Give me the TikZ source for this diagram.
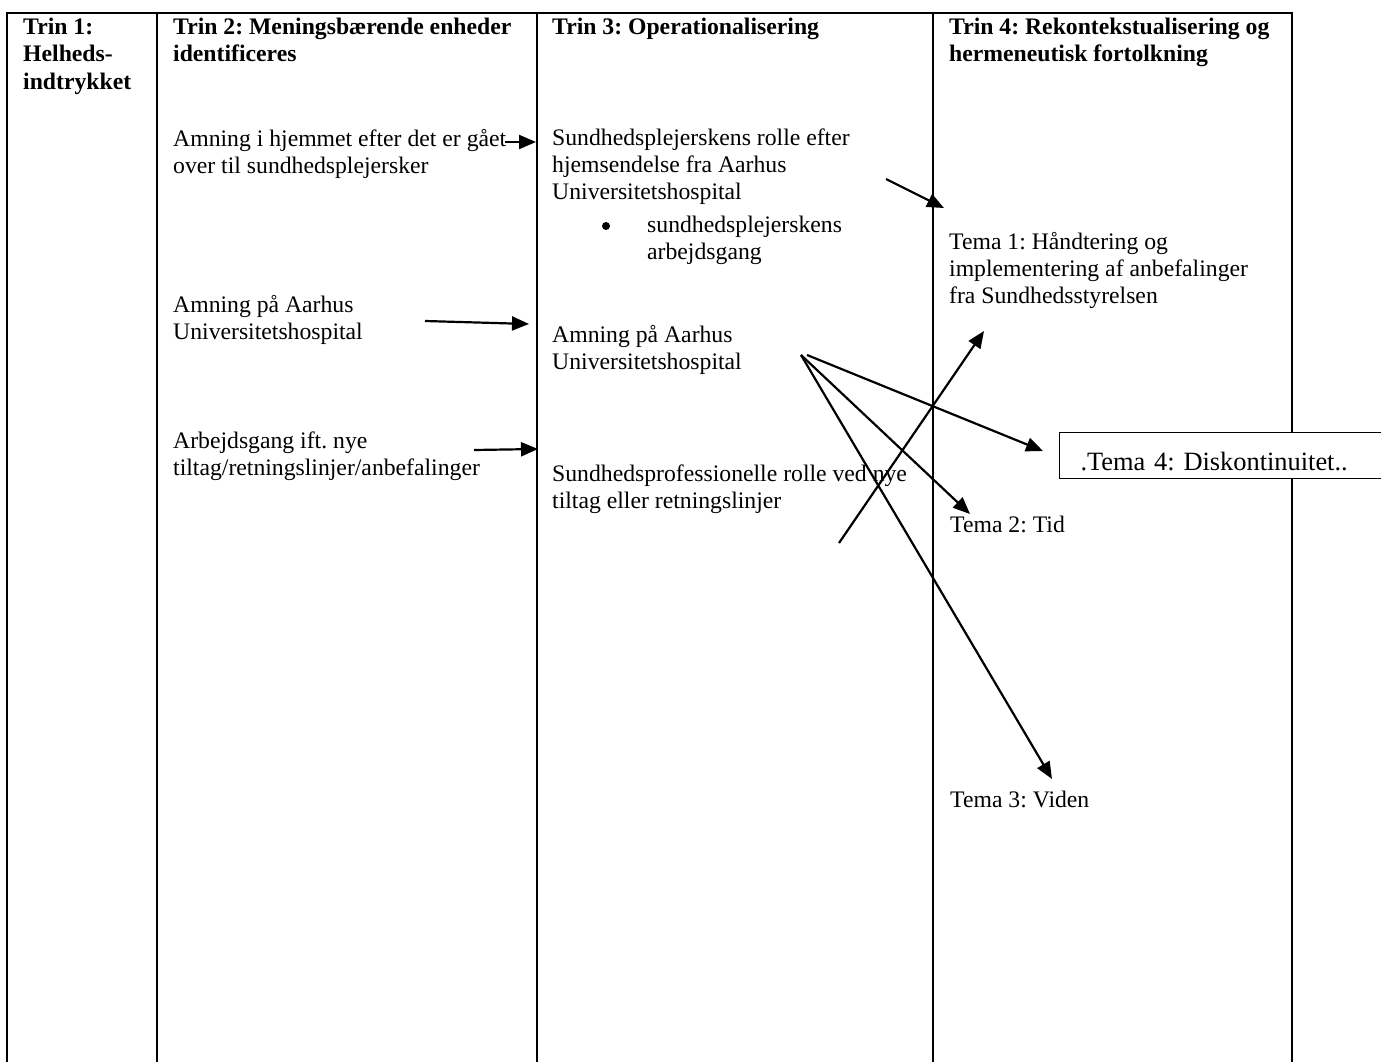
\documentclass[tikz,border=0pt]{standalone}
\usepackage{fontspec}
\setmainfont{Liberation Serif}
\usetikzlibrary{arrows.meta}
\frenchspacing
\newcommand{\bodyfont}{\fontsize{23.7}{27.3}\selectfont}
\newcommand{\headfont}{\fontsize{23.7}{27.6}\selectfont\bfseries}
\newcommand{\boxfont}{\fontsize{26.4}{30}\selectfont}
% fixed first-line height, so a node's top sits 22pt above its first baseline
\newcommand{\firstline}{\rule{0pt}{22pt}}

\begin{document}
\begin{tikzpicture}[x=1pt,y=-1pt,
  rule/.style={line width=2.2pt, line cap=rect},
  cell/.style={anchor=north west, inner sep=0pt, align=left},
  body/.style={cell, font=\bodyfont},
  head/.style={cell, font=\headfont},
  link/.style={line width=2.2pt, -{Triangle[length=17pt,width=14pt]}}]
\useasboundingbox (0,0) rectangle (1381,1062);
\clip (0,0) rectangle (1381,1062);
\fill[white] (0,0) rectangle (1381,1062);

% table rules
\draw[rule] (7,13) -- (1292,13);
\foreach \x in {7,157,537,933,1292}
  \draw[rule] (\x,13) -- (\x,1075);

% column headings
\node[head] (h1) at (23,12)  {\firstline Trin 1:\\Helheds-\\indtrykket};
\node[head] (h2) at (173,12) {\firstline Trin 2: Meningsbærende enheder\\identificeres};
\node[head] (h3) at (552,12) {\firstline Trin 3: Operationalisering};
\node[head] (h4) at (949,12) {\firstline Trin 4: Rekontekstualisering og\\hermeneutisk fortolkning};

% step 2
\node[body] (b21) at (173,124) {\firstline Amning i hjemmet efter det er gået\\over til sundhedsplejersker};
\node[body] (b22) at (173,290) {\firstline Amning på Aarhus\\Universitetshospital};
\node[body] (b23) at (173,426) {\firstline Arbejdsgang ift. nye\\tiltag/retningslinjer/anbefalinger};

% step 3
\node[body] (b31) at (552,123) {\firstline Sundhedsplejerskens rolle efter\\hjemsendelse fra Aarhus\\Universitetshospital};
\node[circle, fill=black, inner sep=0pt, minimum size=8pt] (dot) at (606,226) {};
\node[body] (b32) at (647,210) {\firstline sundhedsplejerskens\\arbejdsgang};
\node[body] (b33) at (552,320) {\firstline Amning på Aarhus\\Universitetshospital};
\node[body] (b34) at (552,459) {\firstline Sundhedsprofessionelle rolle ved nye\\tiltag eller retningslinjer};

% step 4
\node[body] (t1) at (949,227) {\firstline Tema 1: Håndtering og\\implementering af anbefalinger\\fra Sundhedsstyrelsen};
\node[body] (t2) at (950,510) {\firstline Tema 2: Tid};
\node[body] (t3) at (950,785) {\firstline Tema 3: Viden};
\node[draw, fill=white, line width=1pt, anchor=north west, font=\boxfont,
      text width=320pt, align=left, inner xsep=21pt, inner ysep=0pt,
      text height=38pt, text depth=8pt] (t4) at (1059,432) {.Tema 4: Diskontinuitet..};

% arrow end points
\coordinate (a1s) at (505,142);  \coordinate (a1e) at (536,142);
\coordinate (a2s) at (425,321);  \coordinate (a2e) at (529,324);
\coordinate (a3s) at (474,450);  \coordinate (a3e) at (538,449);
\coordinate (a4s) at (886,179);  \coordinate (a4e) at (944,208);
\coordinate (a5s) at (839,543);  \coordinate (a5e) at (984,331);
\coordinate (hub) at (801,355);  \coordinate (hub2) at (807,355);
\coordinate (a6e) at (1043,451);
\coordinate (a7e) at (970,514);
\coordinate (a8e) at (1052,779);

\draw[link] (a1s) -- (a1e);
\draw[link] (a2s) -- (a2e);
\draw[link] (a3s) -- (a3e);
\draw[link] (a4s) -- (a4e);
\draw[link] (a5s) -- (a5e);
\draw[link] (hub2) -- (a6e);
\draw[link] (hub) -- (a7e);
\draw[link] (hub) -- (a8e);
\end{tikzpicture}
\end{document}
